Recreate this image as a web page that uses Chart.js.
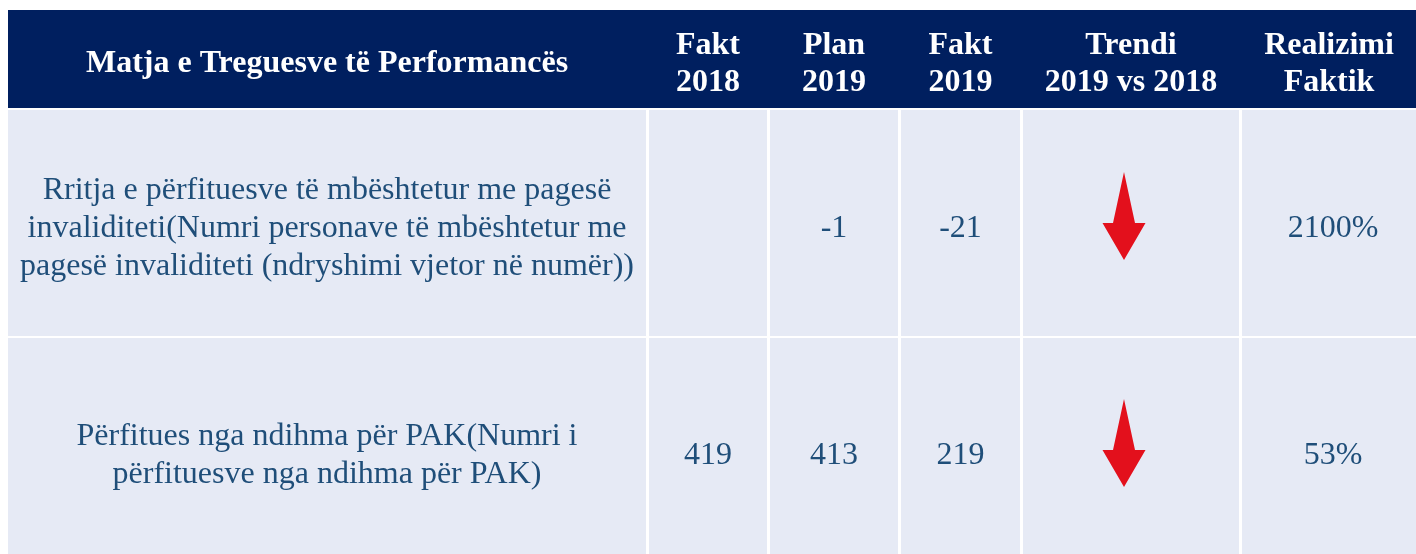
<!DOCTYPE html>
<html>
<head>
<meta charset="utf-8">
<script src="https://cdn.jsdelivr.net/npm/chart.js@4/dist/chart.umd.min.js"></script>
<style>
	body { margin: 0; background: #ffffff; }
	#wrap { width: 1416px; height: 554px; }
</style>
</head>
<body>
<div id="wrap"><canvas id="kpiTable"></canvas></div>
<script>
// te dhenat e tabeles
var headers = ['Matja e Treguesve të Performancës', 'Fakt\n2018', 'Plan\n2019', 'Fakt\n2019', 'Trendi\n2019 vs 2018', 'Realizimi\nFaktik'];
var indicators = [
	'Rritja e përfituesve të mbështetur me pagesë\ninvaliditeti(Numri personave të mbështetur me\npagesë invaliditeti (ndryshimi vjetor në numër))',
	'Përfitues nga ndihma për PAK(Numri i\npërfituesve nga ndihma për PAK)'
];
var fakt2018 = [null, 419];
var plan2019 = [-1, 413];
var fakt2019 = [-21, 219];
var trend = ['down', 'down'];
var realizimi = [2100, 53];

// layout i tabeles (njesite e shkallave)
var colEdges = [8, 647.5, 768.5, 899.5, 1021.5, 1240.5, 1416];
var headBand = [10, 108];
var rowBands = [[110, 336], [338, 562]];
var gap = 1.5;

var navy = '#001f5f';
var cellBg = '#e6eaf5';
var textCol = '#1f4e79';

function colCenter(i) {
	var l = i == 0 ? colEdges[0] : colEdges[i] + gap;
	var r = i == colEdges.length - 2 ? colEdges[i + 1] : colEdges[i + 1] - gap;
	return (l + r) / 2;
}

// shigjeta e kuqe per trendin
var arrow = document.createElement('canvas');
arrow.width = 46;
arrow.height = 90;
(function() {
	var c = arrow.getContext('2d');
	c.fillStyle = '#e3101c';
	c.beginPath();
	c.moveTo(23, 1);
	c.lineTo(34, 52);
	c.lineTo(44.5, 52);
	c.lineTo(23, 89);
	c.lineTo(1.5, 52);
	c.lineTo(12, 52);
	c.closePath();
	c.fill();
})();

var trendPoints = [];
for (var i = 0; i < trend.length; i++) {
	if (trend[i] == 'down') {
		trendPoints.push({ x: colCenter(4) - 7, y: (rowBands[i][0] + rowBands[i][1]) / 2 - 7 });
	}
}

function drawLines(ctx, text, x, y, lh) {
	var lines = text.split('\n');
	var top = y - (lines.length - 1) * lh / 2;
	for (var k = 0; k < lines.length; k++) {
		ctx.fillText(lines[k], x, top + k * lh);
	}
}

var tablePlugin = {
	id: 'tablePlugin',
	beforeDatasetsDraw: function(chart) {
		var ctx = chart.ctx;
		var xs = chart.scales.x;
		var ys = chart.scales.y;
		var last = colEdges.length - 1;
		ctx.save();

		// koka e tabeles
		ctx.fillStyle = navy;
		ctx.fillRect(xs.getPixelForValue(colEdges[0]), ys.getPixelForValue(headBand[0]),
			xs.getPixelForValue(colEdges[last]) - xs.getPixelForValue(colEdges[0]),
			ys.getPixelForValue(headBand[1]) - ys.getPixelForValue(headBand[0]));

		// qelizat
		ctx.fillStyle = cellBg;
		for (var r = 0; r < rowBands.length; r++) {
			for (var c = 0; c < last; c++) {
				var l = c == 0 ? colEdges[0] : colEdges[c] + gap;
				var rt = c == last - 1 ? colEdges[last] : colEdges[c + 1] - gap;
				var x0 = xs.getPixelForValue(l);
				var x1 = xs.getPixelForValue(rt);
				var y0 = ys.getPixelForValue(rowBands[r][0]);
				var y1 = ys.getPixelForValue(rowBands[r][1]);
				ctx.fillRect(x0, y0, x1 - x0, y1 - y0);
			}
		}

		ctx.textAlign = 'center';
		ctx.textBaseline = 'middle';

		// tekstet e kokes
		ctx.fillStyle = '#ffffff';
		ctx.font = 'bold 32px "Liberation Serif"';
		var hy = ys.getPixelForValue((headBand[0] + headBand[1]) / 2 + 5);
		for (var h = 0; h < headers.length; h++) {
			drawLines(ctx, headers[h], xs.getPixelForValue(colCenter(h)), hy, 37);
		}

		// vlerat
		ctx.fillStyle = textCol;
		ctx.font = '32px "Liberation Serif"';
		for (var r2 = 0; r2 < rowBands.length; r2++) {
			var cy = ys.getPixelForValue((rowBands[r2][0] + rowBands[r2][1]) / 2 + 6);
			drawLines(ctx, indicators[r2], xs.getPixelForValue(colCenter(0)), cy, 38);
			var vals = [fakt2018[r2], plan2019[r2], fakt2019[r2]];
			for (var v = 0; v < vals.length; v++) {
				if (vals[v] !== null) ctx.fillText(String(vals[v]), xs.getPixelForValue(colCenter(v + 1)), cy);
			}
			ctx.fillText(realizimi[r2] + '%', xs.getPixelForValue(colCenter(5) + 4), cy);
		}
		ctx.restore();
	}
};

var tableChart = new Chart(document.getElementById('kpiTable').getContext('2d'), {
	type: 'scatter',
	data: {
		datasets: [{
			label: 'Trendi',
			data: trendPoints,
			pointStyle: arrow,
			pointRadius: 20,
			pointHoverRadius: 20
		}]
	},
	options: {
		responsive: true,
		maintainAspectRatio: false,
		animation: false,
		events: [],
		layout: { padding: 0, autoPadding: false },
		plugins: {
			legend: { display: false },
			tooltip: { enabled: false }
		},
		scales: {
			x: { type: 'linear', min: 0, max: 1416, display: false },
			y: { type: 'linear', min: 0, max: 554, reverse: true, display: false }
		}
	},
	plugins: [tablePlugin]
});
</script>
</body>
</html>
